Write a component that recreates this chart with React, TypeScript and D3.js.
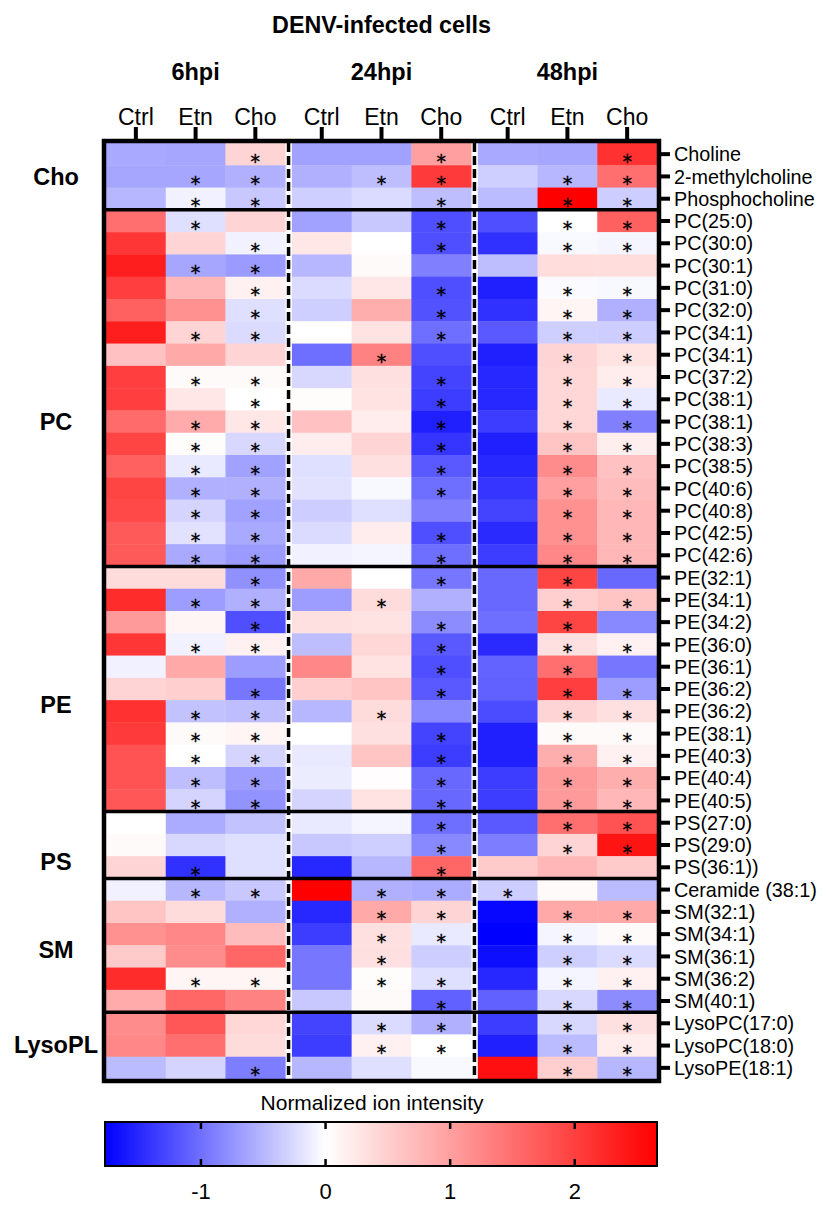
import * as d3 from "d3";
import { useEffect, useRef } from "react";

// --- Data (normalized ion intensity) ---
const timepoints = ["6hpi", "24hpi", "48hpi"];
const conditions = ["Ctrl", "Etn", "Cho"];
const groupNames = ["Cho", "PC", "PE", "PS", "SM", "LysoPL"];

// each row: 6hpi Ctrl/Etn/Cho, 24hpi Ctrl/Etn/Cho, 48hpi Ctrl/Etn/Cho
const choLabels = ["Choline", "2-methylcholine", "Phosphocholine"];
const choValues = [
  [-0.6, -0.62, 0.45, -0.65, -0.65, 1.0, -0.6, -0.62, 2.15],
  [-0.62, -0.62, -0.55, -0.55, -0.45, 2.05, -0.33, -0.5, 1.5],
  [-0.5, -0.1, -0.38, -0.33, -0.25, -0.45, -0.47, 2.66, -0.35],
];
const choSig = ["001001001", "011011011", "011001011"];

const pcLabels = [
  "PC(25:0)", "PC(30:0)", "PC(30:1)", "PC(31:0)", "PC(32:0)", "PC(34:1)", "PC(34:1)", "PC(37:2)",
  "PC(38:1)", "PC(38:1)", "PC(38:3)", "PC(38:5)", "PC(40:6)", "PC(40:8)", "PC(42:5)", "PC(42:6)",
];
const pcValues = [
  [1.5, -0.22, 0.45, -0.65, -0.38, -1.22, -1.22, 0, 1.66],
  [2.1, 0.45, -0.1, 0.25, 0, -1.22, -1.44, -0.05, -0.07],
  [2.35, -0.62, -0.7, -0.5, 0.05, -0.88, -0.45, 0.35, 0.35],
  [2.0, 0.75, 0.15, -0.25, 0.25, -1.22, -1.55, -0.03, -0.05],
  [1.65, 1.15, -0.22, -0.33, 0.85, -1.2, -1.44, 0.1, -0.55],
  [2.35, 0.45, -0.25, 0, 0.3, -1.0, -1.15, -0.33, -0.35],
  [0.65, 0.9, 0.45, -1.0, 1.3, -1.22, -1.55, 0.45, 0.3],
  [2.0, 0.05, 0.05, -0.27, 0.32, -1.3, -1.5, 0.42, 0.2],
  [2.0, 0.25, 0, 0.03, 0.3, -1.35, -1.5, 0.42, -0.15],
  [1.55, 0.88, 0.25, 0.65, 0.2, -1.55, -1.35, 0.42, -0.88],
  [1.95, 0.03, -0.27, 0.2, 0.45, -1.4, -1.55, 0.6, 0.18],
  [1.65, -0.15, -0.65, -0.22, 0.32, -1.15, -1.5, 1.2, 0.65],
  [1.95, -0.55, -0.55, -0.2, -0.05, -1.0, -1.4, 1.0, 0.7],
  [1.9, -0.3, -0.65, -0.35, -0.22, -0.88, -1.3, 1.15, 0.75],
  [1.72, -0.2, -0.6, -0.25, 0.2, -1.22, -1.48, 1.15, 0.75],
  [1.72, -0.6, -0.7, -0.1, -0.07, -1.0, -1.35, 1.25, 0.75],
];
const pcSig = [
  "010001011", "001001011", "011000000", "001001011", "001001011", "011001011", "000010011", "011001011",
  "001001011", "011001011", "011001011", "011001011", "011001011", "011000011", "011001011", "011001011",
];

const peLabels = [
  "PE(32:1)", "PE(34:1)", "PE(34:2)", "PE(36:0)", "PE(36:1)", "PE(36:2)",
  "PE(36:2)", "PE(38:1)", "PE(40:3)", "PE(40:4)", "PE(40:5)",
];
const peValues = [
  [0.37, 0.37, -0.77, 0.9, 0, -0.95, -1.05, 1.95, -1.05],
  [2.2, -0.68, -0.55, -0.68, 0.37, -0.55, -1.05, 0.5, 0.6],
  [1.05, 0.1, -1.22, 0.32, 0.3, -0.8, -1.0, 1.95, -0.82],
  [2.1, -0.1, 0.15, -0.45, 0.42, -1.15, -1.48, 0.32, 0.15],
  [-0.1, 0.9, -0.68, 1.25, 0.3, -1.22, -1.08, 1.5, -0.95],
  [0.45, 0.5, -0.95, 0.5, 0.6, -1.15, -1.1, 2.0, -0.68],
  [2.15, -0.42, -0.45, -0.5, 0.37, -0.82, -1.25, 0.45, 0.32],
  [2.05, 0.05, 0.1, 0, 0.32, -1.3, -1.55, 0.05, 0.05],
  [1.8, 0, -0.3, -0.15, 0.6, -1.35, -1.55, 0.85, 0.15],
  [1.8, -0.45, -0.68, -0.13, 0.02, -1.05, -1.35, 1.05, 0.85],
  [1.75, -0.3, -0.75, -0.3, 0.3, -1.05, -1.35, 1.05, 0.75],
];
const peSig = [
  "001001010", "011010011", "001001010", "011001011", "000001010", "001001011",
  "011010011", "011001011", "011001011", "011001011", "011001011",
];

const psLabels = ["PS(27:0)", "PS(29:0)", "PS(36:1))"];
const psValues = [
  [0, -0.58, -0.42, -0.15, -0.07, -1.0, -1.15, 1.5, 1.8],
  [0.05, -0.27, -0.22, -0.38, -0.33, -0.82, -0.9, 0.45, 2.45],
  [0.45, -1.44, -0.22, -1.5, -0.5, 1.6, 0.55, 0.75, 0.55],
];
const psSig = ["000001011", "000001011", "010001000"];

const smLabels = ["Ceramide (38:1)", "SM(32:1)", "SM(34:1)", "SM(36:1)", "SM(36:2)", "SM(40:1)"];
const smValues = [
  [-0.1, -0.5, -0.38, 2.66, -0.55, -0.58, -0.35, 0.05, -0.47],
  [0.6, 0.37, -0.55, -1.5, 0.9, 0.45, -1.72, 0.9, 0.9],
  [1.15, 1.25, 0.7, -1.35, 0.32, -0.15, -1.77, -0.07, 0.05],
  [0.55, 1.2, 1.6, -0.95, 0.32, -0.35, -1.67, -0.33, -0.25],
  [2.2, 0.1, 0.1, -0.95, 0.03, -0.22, -1.5, -0.07, 0.15],
  [0.88, 1.6, 1.3, -0.38, 0.05, -1.1, -1.1, -0.27, -0.8],
];
const smSig = ["011011100", "000011011", "000011011", "000010011", "011011011", "000001011"];

const lysoLabels = ["LysoPC(17:0)", "LysoPC(18:0)", "LysoPE(18:1)"];
const lysoValues = [
  [1.2, 1.75, 0.42, -1.3, -0.25, -0.55, -1.35, -0.27, 0.32],
  [1.25, 1.5, 0.37, -1.35, 0.15, 0, -1.55, -0.47, 0.2],
  [-0.47, -0.3, -0.9, -0.5, -0.22, -0.05, 2.5, 0.5, -0.5],
];
const lysoSig = ["000011011", "000011011", "001000011"];

const colorTicks = [-1, 0, 1, 2];
const colorMin = -1.77;
const colorMax = 2.66;

// --- Layout ---
const W = 829;
const H = 1206;
const FONT = "'Liberation Sans', Arial, sans-serif";
const STAR_FONT = "'DejaVu Sans', sans-serif";
const x0 = 106;
const x1 = 657;
const y0 = 143;
const y1 = 1079;
const groupLabelRow = [1.5, 12.5, 25.2, 32.25, 36.2, 40.45]; // row position of left labels

const App = () => {
  const svgRef = useRef<SVGSVGElement>(null);

  useEffect(() => {
    if (!svgRef.current) return;
    const svg = d3.select(svgRef.current);
    svg.selectAll("*").remove();

    const rowLabels = [...choLabels, ...pcLabels, ...peLabels, ...psLabels, ...smLabels, ...lysoLabels];
    const values = [...choValues, ...pcValues, ...peValues, ...psValues, ...smValues, ...lysoValues];
    const sig = [...choSig, ...pcSig, ...peSig, ...psSig, ...smSig, ...lysoSig];
    const groupSizes = [choLabels, pcLabels, peLabels, psLabels, smLabels, lysoLabels].map((g) => g.length);
    const nRows = rowLabels.length;

    const color = d3
      .scaleLinear<string>()
      .domain([colorMin, 0, colorMax])
      .range(["#0000ff", "#ffffff", "#ff0000"])
      .clamp(true);

    const blockX = d3.scaleBand<string>().domain(timepoints).range([x0, x1]).paddingInner(0.036);
    const colX = d3.scaleBand<string>().domain(conditions).range([0, blockX.bandwidth()]);
    const rowY = d3.scaleBand<number>().domain(d3.range(nRows)).range([y0, y1]);

    const cells: { r: number; c: number; v: number; s: boolean }[] = [];
    values.forEach((row, r) => row.forEach((v, c) => cells.push({ r, c, v, s: sig[r][c] === "1" })));
    const cellX = (c: number) => (blockX(timepoints[Math.floor(c / 3)]) as number) + (colX(conditions[c % 3]) as number);

    svg.append("rect").attr("width", W).attr("height", H).attr("fill", "#fff");

    // cells
    svg
      .append("g")
      .selectAll("rect")
      .data(cells)
      .join("rect")
      .attr("x", (d) => cellX(d.c))
      .attr("y", (d) => rowY(d.r) as number)
      .attr("width", colX.bandwidth() + 0.4)
      .attr("height", rowY.bandwidth() + 0.4)
      .attr("fill", (d) => color(d.v));

    // significance stars (font size kept under row height so they don't collide)
    svg
      .append("g")
      .attr("font-family", STAR_FONT)
      .attr("font-size", 19)
      .attr("text-anchor", "middle")
      .attr("stroke", "#000")
      .attr("stroke-width", 0.4)
      .selectAll("text")
      .data(cells.filter((d) => d.s))
      .join("text")
      .attr("x", (d) => cellX(d.c) + colX.bandwidth() / 2)
      .attr("y", (d) => (rowY(d.r) as number) + rowY.bandwidth() / 2 + 13.5)
      .text("*");

    // group separators
    let acc = 0;
    const bounds: number[] = [];
    groupSizes.forEach((n, i) => {
      if (i > 0) bounds.push(acc);
      acc += n;
    });
    svg
      .append("g")
      .selectAll("line")
      .data(bounds)
      .join("line")
      .attr("x1", x0)
      .attr("x2", x1)
      .attr("y1", (d) => rowY(d) as number)
      .attr("y2", (d) => rowY(d) as number)
      .attr("stroke", "#000")
      .attr("stroke-width", 3.5);

    // dashed block dividers
    const dividers = timepoints.slice(1).map((tp, i) => {
      const prevEnd = (blockX(timepoints[i]) as number) + blockX.bandwidth();
      return (prevEnd + (blockX(tp) as number)) / 2;
    });
    svg
      .append("g")
      .selectAll("line")
      .data(dividers)
      .join("line")
      .attr("x1", (d) => d)
      .attr("x2", (d) => d)
      .attr("y1", y0)
      .attr("y2", y1)
      .attr("stroke", "#000")
      .attr("stroke-width", 3.5)
      .attr("stroke-dasharray", "9,4");

    // frame
    svg
      .append("rect")
      .attr("x", x0 - 2)
      .attr("y", y0 - 2)
      .attr("width", x1 - x0 + 4)
      .attr("height", y1 - y0 + 4)
      .attr("fill", "none")
      .attr("stroke", "#000")
      .attr("stroke-width", 4.5);

    // top ticks + column labels
    const colCenters = d3.range(9).map((c) => ({ c, x: cellX(c) + colX.bandwidth() / 2 }));
    const top = svg.append("g").attr("font-family", FONT);
    top
      .selectAll("line")
      .data(colCenters)
      .join("line")
      .attr("x1", (d) => d.x)
      .attr("x2", (d) => d.x)
      .attr("y1", y0 - 4)
      .attr("y2", y0 - 16)
      .attr("stroke", "#000")
      .attr("stroke-width", 4);
    top
      .selectAll("text.col")
      .data(colCenters)
      .join("text")
      .attr("class", "col")
      .attr("x", (d) => d.x)
      .attr("y", 125)
      .attr("text-anchor", "middle")
      .attr("font-size", 23)
      .text((d) => conditions[d.c % 3]);

    // timepoint headers
    top
      .selectAll("text.tp")
      .data(timepoints)
      .join("text")
      .attr("class", "tp")
      .attr("x", (d) => (blockX(d) as number) + blockX.bandwidth() / 2)
      .attr("y", 80)
      .attr("text-anchor", "middle")
      .attr("font-size", 23.5)
      .attr("font-weight", "bold")
      .text((d) => d);

    top
      .append("text")
      .attr("x", (x0 + x1) / 2)
      .attr("y", 33)
      .attr("text-anchor", "middle")
      .attr("font-size", 23.3)
      .attr("font-weight", "bold")
      .text("DENV-infected cells");

    // right ticks + row labels
    const right = svg.append("g").attr("font-family", FONT);
    right
      .selectAll("line")
      .data(rowLabels)
      .join("line")
      .attr("x1", x1 + 4)
      .attr("x2", x1 + 13)
      .attr("y1", (_d, i) => (rowY(i) as number) + rowY.bandwidth() / 2)
      .attr("y2", (_d, i) => (rowY(i) as number) + rowY.bandwidth() / 2)
      .attr("stroke", "#000")
      .attr("stroke-width", 4);
    right
      .selectAll("text")
      .data(rowLabels)
      .join("text")
      .attr("x", x1 + 17)
      .attr("y", (_d, i) => (rowY(i) as number) + rowY.bandwidth() / 2)
      .attr("dy", "0.36em")
      .attr("font-size", 19.8)
      .text((d) => d);

    // left group labels
    svg
      .append("g")
      .attr("font-family", FONT)
      .selectAll("text")
      .data(groupNames)
      .join("text")
      .attr("x", 56)
      .attr("y", (_d, i) => y0 + groupLabelRow[i] * rowY.step())
      .attr("dy", "0.36em")
      .attr("text-anchor", "middle")
      .attr("font-size", 23.5)
      .attr("font-weight", "bold")
      .text((d) => d);

    // --- Colour bar ---
    const cbTop = 1122;
    const cbH = 44;
    const cbX = d3.scaleLinear().domain([colorMin, colorMax]).range([x0 - 1, x1]);
    const defs = svg.append("defs");
    const grad = defs.append("linearGradient").attr("id", "cbGrad").attr("x1", "0%").attr("x2", "100%");
    d3.range(0, 1.0001, 0.05).forEach((t) => {
      const v = colorMin + t * (colorMax - colorMin);
      grad.append("stop").attr("offset", `${t * 100}%`).attr("stop-color", color(v));
    });
    const cb = svg.append("g").attr("font-family", FONT);
    cb.append("rect")
      .attr("x", cbX.range()[0])
      .attr("y", cbTop)
      .attr("width", cbX.range()[1] - cbX.range()[0])
      .attr("height", cbH)
      .attr("fill", "url(#cbGrad)")
      .attr("stroke", "#000")
      .attr("stroke-width", 2);
    cb.selectAll("line.t1")
      .data(colorTicks)
      .join("line")
      .attr("class", "t1")
      .attr("x1", (d) => cbX(d))
      .attr("x2", (d) => cbX(d))
      .attr("y1", cbTop)
      .attr("y2", cbTop + 7)
      .attr("stroke", "#000")
      .attr("stroke-width", 2.5);
    cb.selectAll("line.t2")
      .data(colorTicks)
      .join("line")
      .attr("class", "t2")
      .attr("x1", (d) => cbX(d))
      .attr("x2", (d) => cbX(d))
      .attr("y1", cbTop + cbH)
      .attr("y2", cbTop + cbH - 7)
      .attr("stroke", "#000")
      .attr("stroke-width", 2.5);
    cb.selectAll("text.tick")
      .data(colorTicks)
      .join("text")
      .attr("class", "tick")
      .attr("x", (d) => cbX(d))
      .attr("y", 1199)
      .attr("text-anchor", "middle")
      .attr("font-size", 22)
      .text((d) => (d < 0 ? `-${Math.abs(d)}` : `${d}`));
    cb.append("text")
      .attr("x", 372)
      .attr("y", 1110)
      .attr("text-anchor", "middle")
      .attr("font-size", 21)
      .text("Normalized ion intensity");
  }, []);

  return (
    <svg
      ref={svgRef}
      width={W}
      height={H}
      style={{ position: "absolute", left: 0, top: 0, display: "block" }}
    />
  );
};

export default App;
